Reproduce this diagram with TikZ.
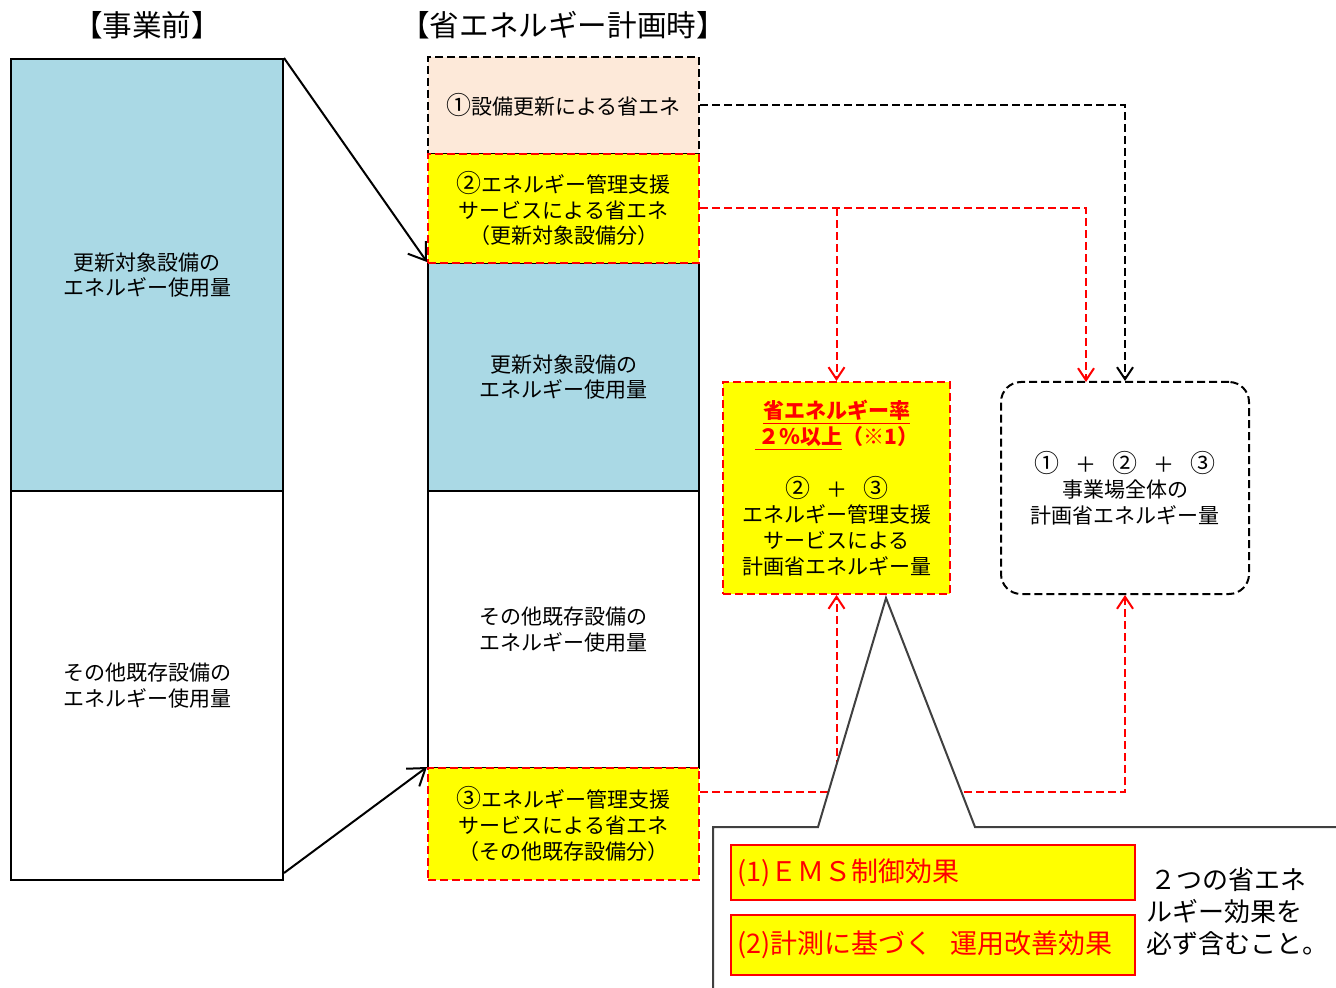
\documentclass[tikz,border=0pt]{standalone}
\usepackage{fontspec}
\setmainfont{Noto Sans CJK JP}
\usetikzlibrary{arrows.meta,calc}
\definecolor{hatchc}{RGB}{170,217,229}
\definecolor{peachc}{RGB}{253,233,217}
\definecolor{callgray}{RGB}{64,64,64}
\definecolor{yel}{RGB}{255,255,0}
\newcommand{\cnum}[1]{{\fontsize{12.5}{12.8}\selectfont #1}}
\begin{document}
\begin{tikzpicture}[x=0.5pt,y=-0.5pt,
  base/.style={line width=1pt,inner sep=0pt,align=center,font=\fontsize{10.5}{12.8}\selectfont},
  solidbox/.style={base,draw=black},
  hatchbox/.style={solidbox,fill=hatchc},
  blackdash/.style={line width=1pt,dash pattern=on 4pt off 2pt,draw=black},
  reddash/.style={line width=1pt,dash pattern=on 4pt off 2pt,draw=red},
  ybox/.style={base,reddash,fill=yel},
  title/.style={font=\fontsize{14.8}{16}\selectfont},
  barrow/.style={line width=1pt,-{Straight Barb[length=8pt,width=11pt]}},
  rarrow/.style={-{Straight Barb[length=6pt,width=8pt]}},
  calbox/.style={draw=red,line width=1pt,fill=yel,minimum width=202pt,inner sep=0pt,text=red,font=\fontsize{13.5}{15}\selectfont}
]
\useasboundingbox (0,0) rectangle (1336,988);

% titles
\node[title] (t1) at (147,25) {【事業前】};
\node[title] (t2) at (563,25) {【省エネルギー計画時】};

% left column
\node[hatchbox,minimum width=136pt,minimum height=216pt] (L1) at (147,275) {更新対象設備の\\エネルギー使用量};
\node[solidbox,minimum width=136pt,minimum height=194.5pt] (L2) at (147,685.5) {その他既存設備の\\エネルギー使用量};

% middle column
\node[base,blackdash,fill=peachc,minimum width=135.5pt,minimum height=48.5pt] (a1) at (563.5,105.5) {\cnum{①}設備更新による省エネ};
\node[hatchbox,minimum width=135.5pt,minimum height=114pt] (M1) at (563.5,377) {更新対象設備の\\エネルギー使用量};
\node[solidbox,minimum width=135.5pt,minimum height=138.5pt] (M2) at (563.5,629.5) {その他既存設備の\\エネルギー使用量};
\node[ybox,minimum width=135.5pt,minimum height=54.5pt] (a2) at (563.5,208.5) {\cnum{②}エネルギー管理支援\\サービスによる省エネ\\（更新対象設備分）};
\node[ybox,minimum width=135.5pt,minimum height=56pt] (a3) at (563.5,824) {\cnum{③}エネルギー管理支援\\サービスによる省エネ\\（その他既存設備分）};

% result boxes
\node[ybox,minimum width=113.5pt,minimum height=106pt] (Y) at (836.5,488) {%
  {\color{red}\bfseries\underline{省エネルギー率}}\\
  {\color{red}\bfseries\underline{\,２％以上}（※1）}\\[12pt]
  \cnum{②}\hspace{8pt}＋\hspace{8pt}\cnum{③}\\エネルギー管理支援\\サービスによる\\計画省エネルギー量};
\node[base,blackdash,rounded corners=10pt,minimum width=124pt,minimum height=106pt] (R) at (1125,488) {\cnum{①}\hspace{8pt}＋\hspace{8pt}\cnum{②}\hspace{8pt}＋\hspace{8pt}\cnum{③}\\事業場全体の\\計画省エネルギー量};

% connectors from left to middle
\draw[barrow] (L1.north east) -- (M1.north west);
\draw[barrow] ($(L2.south east)+(0,-8)$) -- (a3.north west);

% dashed flows
\coordinate (a1e) at (a1.east);
\coordinate (rin) at (1086,382);
\draw[blackdash,rarrow] (a1e) -| (R.north);
\draw[reddash,rarrow] (a2.east) -| (rin);
\coordinate (b2) at (Y.north |- a2.east);
\draw[reddash,rarrow] (b2) -- (Y.north);
\coordinate (a3e) at ($(a3.north east)+(0,25)$);
\draw[reddash,rarrow] (a3e) -| (R.south);
\coordinate (b3) at (Y.south |- a3e);
\draw[reddash,rarrow] (b3) -- (Y.south);

% callout
\coordinate (c0) at (713,995);
\coordinate (c1) at (713,827);
\coordinate (c2) at (818,827);
\coordinate (tip) at (886,598);
\coordinate (c3) at (975,827);
\coordinate (c4) at (1345,827);
\fill[white] (c0) -- (c1) -- (c2) -- (tip) -- (c3) -- (c4) -- (1345,995) -- cycle;
\draw[callgray,line width=1pt] (c0) -- (c1) -- (c2) -- (tip) -- (c3) -- (c4);

\node[calbox,minimum height=27.5pt,text width=196pt,align=left] (e1) at (933,872.5) {(1)ＥＭＳ制御効果};
\node[calbox,minimum height=30pt,text width=196pt,align=left] (e2) at (933,945) {(2)計測に基づく\ \ 運用改善効果};
\node[anchor=west,align=left,inner sep=0pt,font=\fontsize{13}{16}\selectfont] (note) at (1146,912) {\,２つの省エネ\\ルギー効果を\\必ず含むこと。};
\end{tikzpicture}
\end{document}
